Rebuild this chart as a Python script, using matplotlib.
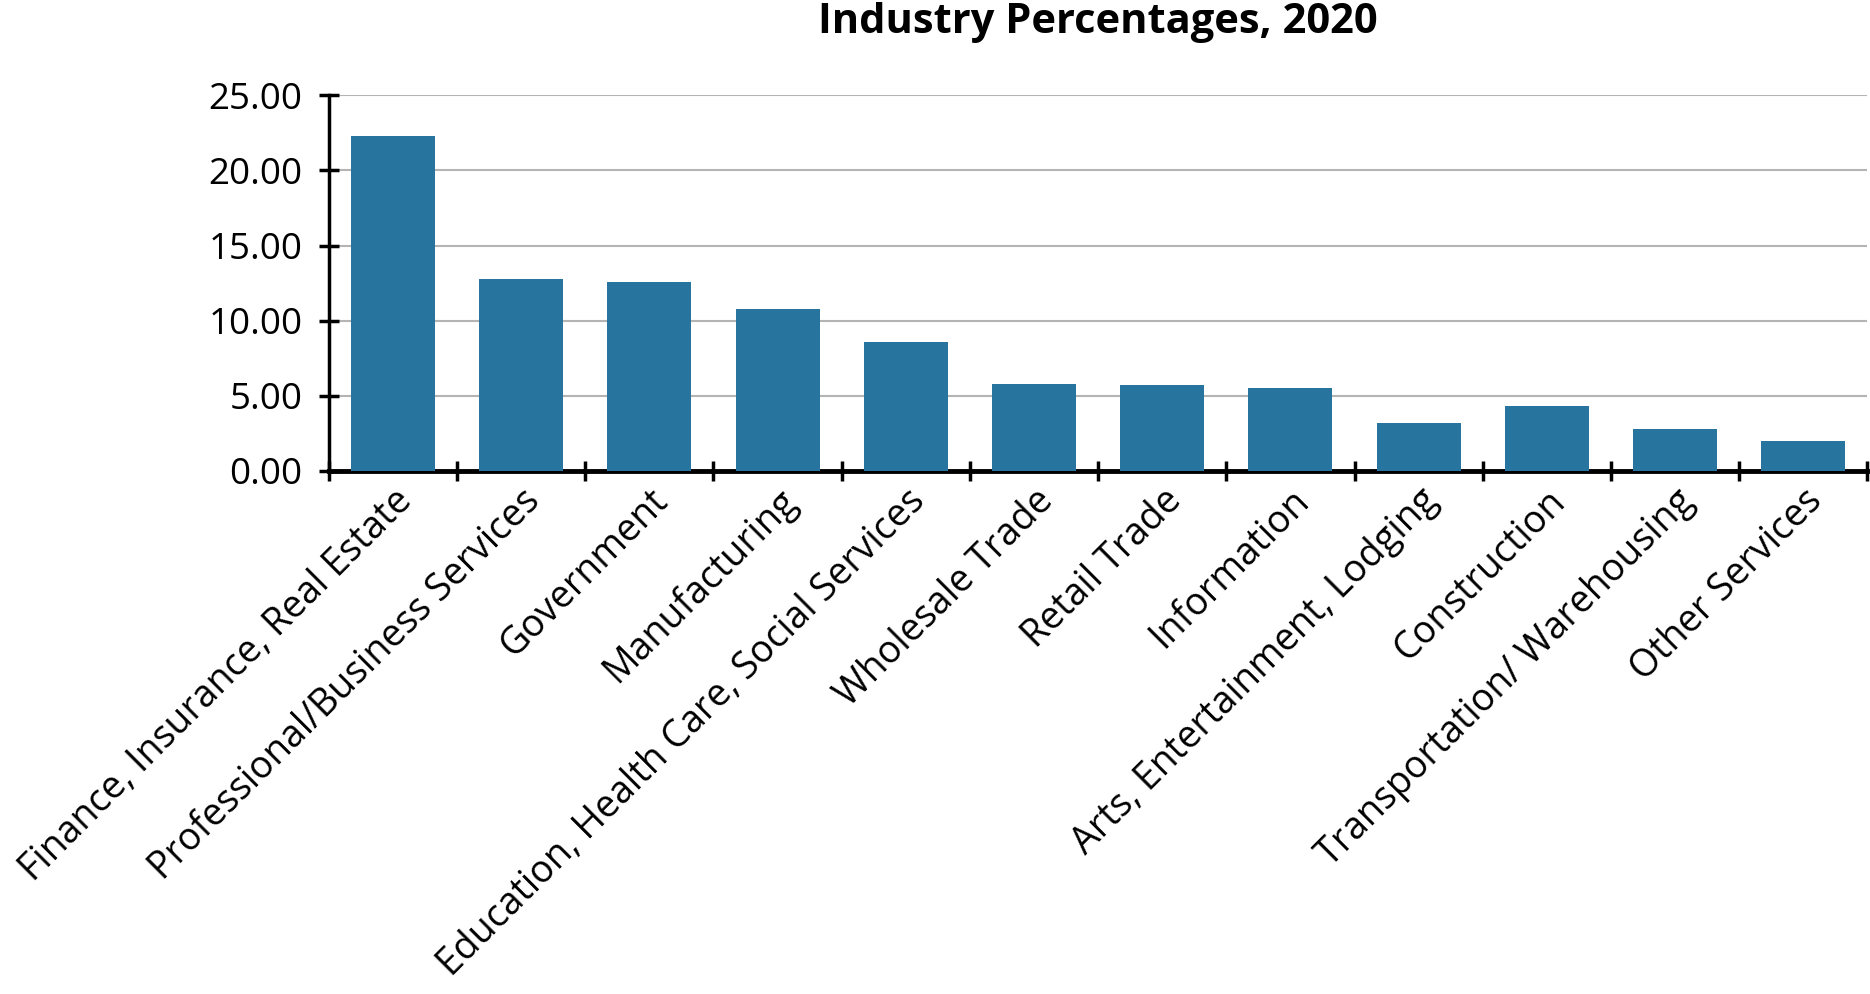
import numpy as np
import matplotlib.pyplot as plt

industries = ['Finance, Insurance, Real Estate', 'Professional/Business Services', 'Government',
              'Manufacturing', 'Education, Health Care, Social Services', 'Wholesale Trade',
              'Retail Trade', 'Information', 'Arts, Entertainment, Lodging', 'Construction',
              'Transportation/ Warehousing', 'Other Services']
percentages = [22.3, 12.8, 12.6, 10.8, 8.6, 5.8, 5.7, 5.5, 3.2, 4.3, 2.8, 2.0]
y_ticks = [0, 5, 10, 15, 20, 25]

plt.rcParams['font.family'] = ['Open Sans', 'DejaVu Sans']

fig = plt.figure(figsize=(18.7, 9.94), dpi=100)
ax = fig.add_axes([0.1758, 0.5265, 0.8228, 0.3775])

x = np.arange(len(industries))
ax.bar(x, percentages, width=0.655, color='#27749f', zorder=3)

ax.set_xlim(-0.5, len(industries) - 0.5)
ax.set_ylim(0, 25)
ax.set_yticks(y_ticks)
ax.set_yticklabels(['%.2f' % v for v in y_ticks], fontsize=26.5)
ax.yaxis.grid(True, color='#b4b4b4', linewidth=1.5, zorder=0)
ax.set_axisbelow(True)

# major ticks sit between the bars, labels on minor ticks at bar centres
ax.set_xticks(np.arange(-0.5, len(industries) + 0.5, 1))
ax.set_xticklabels([])
ax.set_xticks(x, minor=True)
ax.set_xticklabels(industries, minor=True, rotation=45, ha='right',
                   rotation_mode='anchor', fontsize=27)
ax.tick_params(axis='x', which='minor', length=0, pad=8)
ax.tick_params(axis='x', which='major', direction='inout', length=14, width=2.5)
ax.tick_params(axis='y', direction='inout', length=14, width=2.5, pad=12)

for s in ['top', 'right']:
    ax.spines[s].set_visible(False)
ax.spines['left'].set_linewidth(2.5)
ax.spines['bottom'].set_linewidth(3.5)

fig.text(0.587, 0.977, 'Industry Percentages, 2020', ha='center', va='center',
         fontsize=30, fontweight='bold')

fig.savefig('out.png', dpi=100)
